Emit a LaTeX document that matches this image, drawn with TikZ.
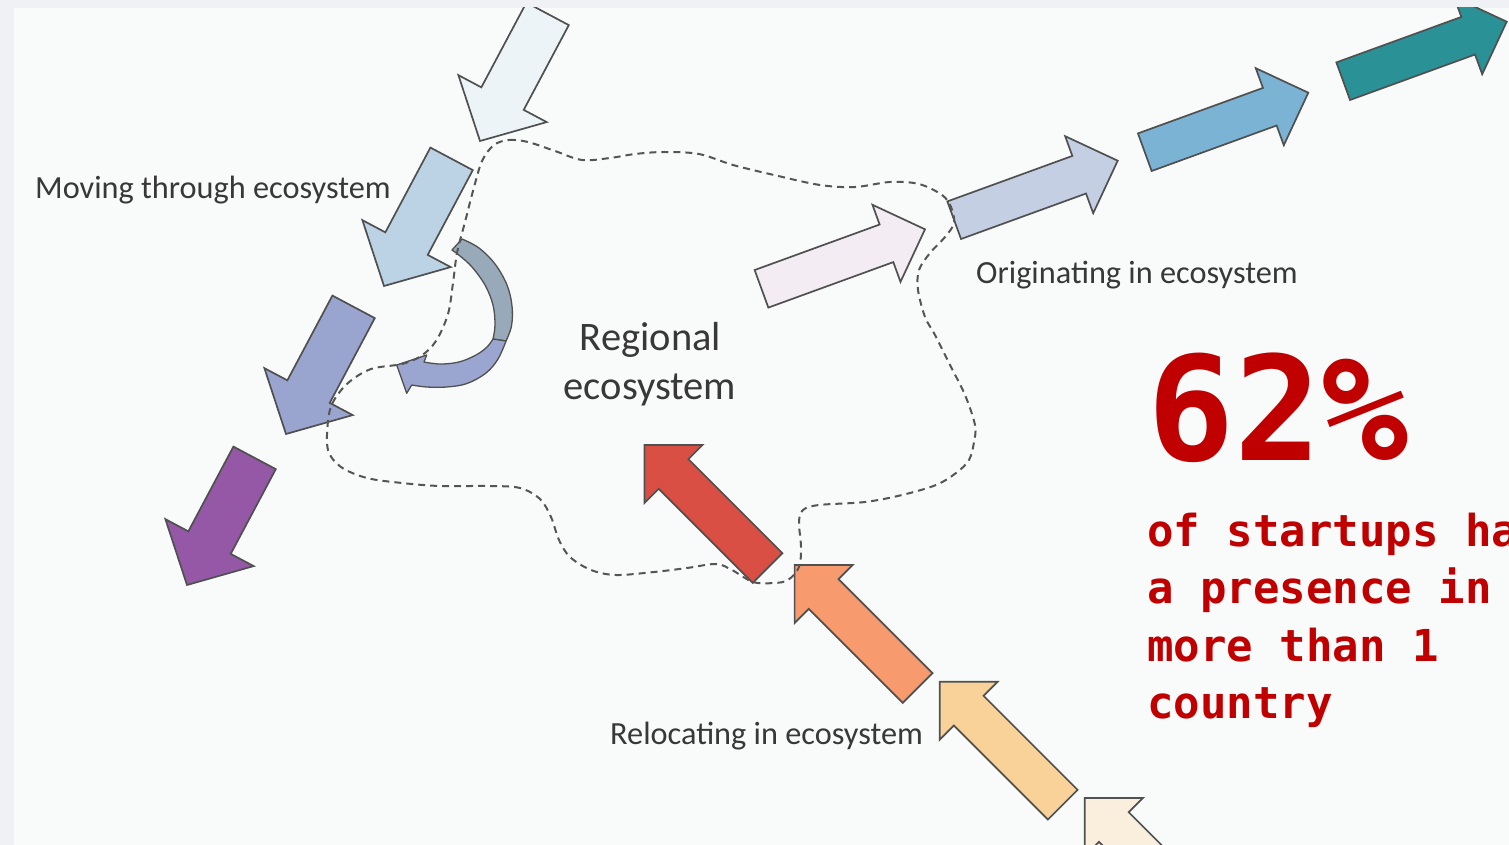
\documentclass[tikz,border=0pt]{standalone}
\usepackage{fontspec}
\setmainfont{Carlito}
\newfontfamily\statfont{DejaVu Sans Mono}

\definecolor{framebg}{HTML}{EFF1F4}
\definecolor{pagebg}{HTML}{F9FAFA}
\definecolor{edgegray}{HTML}{505050}
\definecolor{dashgray}{HTML}{555555}
\definecolor{labelgray}{HTML}{383838}
\definecolor{statred}{HTML}{C00000}
% moving through (down-left)
\definecolor{mvA}{HTML}{EDF4F8}
\definecolor{mvB}{HTML}{BCD3E6}
\definecolor{mvC}{HTML}{9AA5CF}
\definecolor{mvD}{HTML}{9558A6}
% originating (up-right)
\definecolor{orA}{HTML}{F3ECF3}
\definecolor{orB}{HTML}{C5CFE3}
\definecolor{orC}{HTML}{7BB3D5}
\definecolor{orD}{HTML}{2A9197}
% relocating (up-left)
\definecolor{reA}{HTML}{D94F43}
\definecolor{reB}{HTML}{F79B6F}
\definecolor{reC}{HTML}{F9D29A}
\definecolor{reD}{HTML}{FAEEDD}
% curved arrow faces
\definecolor{curveback}{HTML}{98A9BA}
\definecolor{curvefront}{HTML}{9BA6D0}

% block arrow: fill, tip x, tip y, angle, head length, head width, shaft width, shaft length
\newcommand\blockarrow[8]{%
  \filldraw[blockedge, fill=#1, shift={(#2,#3)}, rotate=#4]
    (0,0) -- (-#5,#6/2) -- (-#5,#7/2) -- (-#5-#8,#7/2) -- (-#5-#8,-#7/2)
    -- (-#5,-#7/2) -- (-#5,-#6/2) -- cycle;}

\begin{document}
\begin{tikzpicture}[x=1pt,y=-1pt,
  blockedge/.style={draw=edgegray, line width=1.7pt, line join=miter},
  curveedge/.style={draw=edgegray, line width=1.3pt, line join=round},
  outline/.style={draw=dashgray, line width=2pt, dash pattern=on 7pt off 5pt},
  flowlabel/.style={font=\fontsize{32.3}{38}\selectfont, text=labelgray, inner sep=0pt, anchor=base west},
  regionlabel/.style={font=\fontsize{40.5}{48}\selectfont, text=labelgray, inner sep=0pt, anchor=base},
  statline/.style={font=\statfont\bfseries\fontsize{44}{57}\selectfont, text=statred, inner sep=0pt, anchor=base west}
]
\useasboundingbox (0,0) rectangle (1509,845);
\fill[framebg] (0,0) rectangle (1509,845);
\fill[pagebg] (14,8) rectangle (1509,845);

\begin{scope}
  \clip (14,8) rectangle (1509,845);
  % moving through the ecosystem
  \blockarrow{mvA}{480}{141}{242}{48}{100}{48}{96}
  \blockarrow{mvB}{384}{286}{242}{48}{100}{48}{96}
  \blockarrow{mvC}{286}{434}{242}{48}{100}{48}{96}
  \blockarrow{mvD}{187}{585}{242}{48}{100}{48}{96}
  % originating in the ecosystem
  \blockarrow{orA}{925}{229.3}{20}{41}{82}{40}{133}
  \blockarrow{orB}{1117.7}{160.7}{20}{41}{82}{40}{133}
  \blockarrow{orC}{1308.3}{92.7}{20}{41}{82}{40}{133}
  \blockarrow{orD}{1506.7}{21.7}{20}{41}{82}{40}{133}
  % relocating in the ecosystem
  \blockarrow{reA}{644.5}{445}{135}{41}{82}{42}{133}
  \blockarrow{reB}{794.6}{565}{135}{41}{82}{42}{133}
  \blockarrow{reC}{939.7}{681.7}{135}{41}{82}{42}{133}
  \blockarrow{reD}{1084.8}{798}{135}{41}{82}{42}{133}

  % curved arrow turning back into the ecosystem: back face
  \filldraw[curveedge, fill=curveback]
    plot[smooth, tension=0.6] coordinates {(462,239) (479,248) (495,264) (507,285) (512,306) (511.5,326) (506,341)}
    -- plot[smooth, tension=0.6] coordinates {(493,339) (495,325) (493,305) (485,285) (472,267) (460,256) (452,250)}
    -- cycle;
  % front face with the head
  \filldraw[curveedge, fill=curvefront]
    plot[smooth, tension=0.6] coordinates {(506,341) (498,359) (486,373) (467,383.5) (446.7,387) (426.7,387) (411.7,385)}
    -- (406.7,393.3) -- (396.7,365) -- (426.7,355) -- (424,362)
    -- plot[smooth, tension=0.6] coordinates {(424,362) (440,364) (459,362) (476,355) (487,347) (493,339)}
    -- cycle;

  % boundary of the regional ecosystem
  \draw[outline] plot[smooth cycle, tension=0.55] coordinates {
    (494,145) (509,140) (528,142) (555,151) (582,160) (610,158) (635,154)
    (664,152) (699,154) (733,165) (774,175) (820,185) (855,187) (890,182)
    (919,184) (942,195) (951,207) (954,223) (945,237) (930,253) (919,270)
    (918,290) (925,317) (935,335) (950,365) (965,395) (975,425) (974,442)
    (969,460) (956,473) (936,485) (902,495) (865,502) (819,505) (803,510)
    (799,522) (801,547) (799,567) (788,580) (774,583) (753,582) (732,570)
    (716,564) (687,568) (654,572) (616,575) (591,570) (570,557) (559,540)
    (551,517) (540,499) (520,488) (490,486) (440,486) (402,483) (367,478)
    (341,467) (328,450) (328,421) (333,402) (348,383) (371,369) (402,364)
    (421,356) (436,341) (448,314) (453,283) (457,253) (465,222) (473,191)
    (482,161)};
\end{scope}

% labels
\node[flowlabel] (moving) at (35,198) {Moving through ecosystem};
\node[flowlabel] (originating) at (976,283) {Originating in ecosystem};
\node[flowlabel] (relocating) at (610,744) {Relocating in ecosystem};
\node[regionlabel] (regional) at (650.5,350) {Regional};
\node[regionlabel] (ecosystem) at (650,399) {ecosystem};

% headline figure
\node[inner sep=0pt, anchor=base west, text=statred,
      font=\statfont\bfseries\fontsize{145}{145}\selectfont] (share) at (1147,460) {62\%};
\node[statline] (noteA) at (1147,546) {of startups ha};
\node[statline] (noteB) at (1147,603.5) {a presence in};
\node[statline] (noteC) at (1147,661) {more than 1};
\node[statline] (noteD) at (1147,718.5) {country};
\end{tikzpicture}
\end{document}
